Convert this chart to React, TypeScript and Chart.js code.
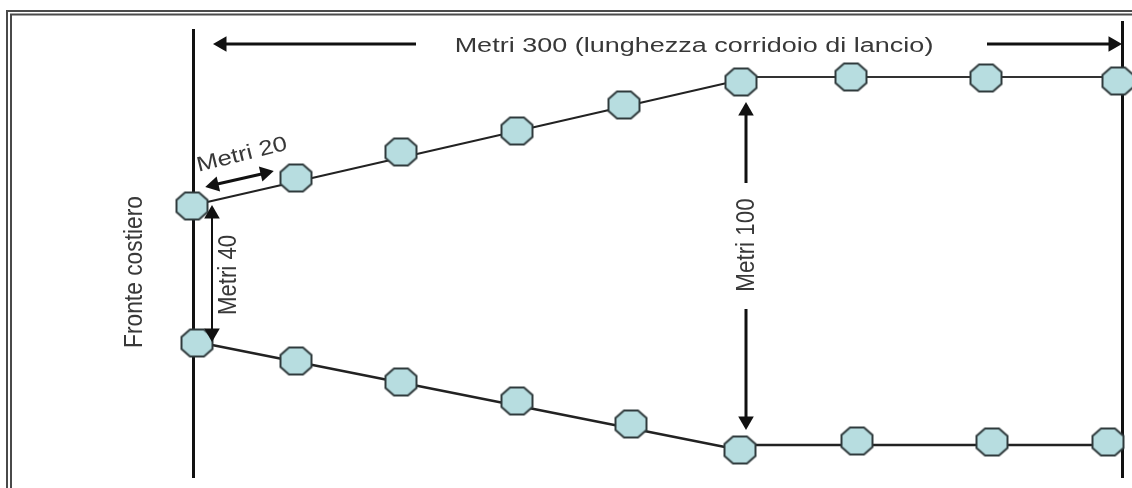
import React, { useEffect, useRef } from "react";
import { Chart, registerables } from "chart.js";

Chart.register(...registerables);

// Diagram plane coordinates
const topNodeX = [192, 296, 401, 517, 624, 741, 851, 986, 1118];
const topNodeY = [206, 178, 152, 131, 105, 82, 77, 78, 81];
const bottomNodeX = [197, 296, 401, 517, 631, 740, 857, 992, 1108];
const bottomNodeY = [343, 361, 382, 401, 424, 450, 441, 442, 442];

const topSlantX = [192, 740];
const topSlantY = [205.5, 80];
const topRunX = [740, 1122];
const topRunY = [77, 77];
const bottomSlantX = [197, 740];
const bottomSlantY = [342, 450];
const bottomRunX = [740, 1122];
const bottomRunY = [445, 445];

const coastX = [193.5, 193.5];
const coastY = [29, 478];
const endX = [1122.5, 1122.5];
const endY = [21, 478];

const frameOuterX = [7, 7, 1132];
const frameOuterY = [488, 11, 11];
const frameInnerX = [11, 11, 1132];
const frameInnerY = [488, 14.5, 14.5];

const labels = ["Metri 300 (lunghezza corridoio di lancio)", "Metri 20", "Metri 40", "Metri 100", "Fronte costiero"];
const labelX = [694, 242, 229, 747, 135];
const labelY = [46, 155, 275, 245, 272];
const labelAngle = [0, -14, -90, -90, -90];
const labelAlong = [1.35, 1.28, 1.11, 1.12, 1.14];
const labelAcross = [1.05, 1.05, 1.25, 1.25, 1.25];

// Arrows: shafts and their heads
const shaftX = [[416, 222], [987, 1112], [213, 266], [212, 212], [746, 746], [746, 746]];
const shaftY = [[44, 44], [44, 44], [185, 173], [213, 334], [110, 183], [309, 422]];
const shaftWidth = [3, 3, 3, 2, 3, 3];
const headX = [222, 1113, 214, 265, 212, 212, 746, 746];
const headY = [44, 44, 185, 173, 214, 333, 111, 421];
const headRotation = [-90, 90, -103, 77, 0, 180, 0, 180];

const INK = "#111111";
const FILL = "#b7dde0";
const EDGE = "#2f3a3c";

function octagon(width: number, height: number): HTMLCanvasElement {
  const c = document.createElement("canvas");
  c.width = width + 4;
  c.height = height + 4;
  const g = c.getContext("2d")!;
  const mx = c.width / 2;
  const my = c.height / 2;
  const rx = width / 2;
  const ry = height / 2;
  const kx = rx * 0.45;
  const ky = ry * 0.45;
  g.beginPath();
  g.moveTo(mx - kx, my - ry);
  g.lineTo(mx + kx, my - ry);
  g.lineTo(mx + rx, my - ky);
  g.lineTo(mx + rx, my + ky);
  g.lineTo(mx + kx, my + ry);
  g.lineTo(mx - kx, my + ry);
  g.lineTo(mx - rx, my + ky);
  g.lineTo(mx - rx, my - ky);
  g.closePath();
  g.fillStyle = FILL;
  g.fill();
  g.lineWidth = 2;
  g.strokeStyle = EDGE;
  g.stroke();
  return c;
}

const zip = (xs: number[], ys: number[]) => xs.map((x, i) => ({ x, y: ys[i] }));

const lineSet = (xs: number[], ys: number[], width: number, color = INK) => ({
  type: "line" as const,
  data: zip(xs, ys),
  borderColor: color,
  borderWidth: width,
  pointRadius: 0,
  showLine: true,
  tension: 0,
  order: 5,
});

const textPlugin = {
  id: "diagramText",
  afterDatasetsDraw(chart: any) {
    const { ctx, scales } = chart;
    ctx.save();
    ctx.fillStyle = "#383838";
    ctx.font = '20px "Liberation Sans", Arial, sans-serif';
    ctx.textAlign = "center";
    ctx.textBaseline = "middle";
    labels.forEach((t, i) => {
      ctx.save();
      ctx.translate(scales.x.getPixelForValue(labelX[i]), scales.y.getPixelForValue(labelY[i]));
      ctx.rotate((labelAngle[i] * Math.PI) / 180);
      ctx.scale(labelAlong[i], labelAcross[i]);
      ctx.fillText(t, 0, 0);
      ctx.restore();
    });
    ctx.restore();
  },
};

export default function App() {
  const ref = useRef<HTMLCanvasElement>(null);
  useEffect(() => {
    document.body.style.margin = "0";
    document.body.style.background = "#ffffff";
    const marker = octagon(31, 27);
    const chart = new Chart(ref.current!, {
      type: "scatter",
      data: {
        datasets: [
          lineSet(frameOuterX, frameOuterY, 2, "#4a4a4a"),
          lineSet(frameInnerX, frameInnerY, 2, "#4a4a4a"),
          lineSet(coastX, coastY, 3),
          lineSet(endX, endY, 3),
          lineSet(topSlantX, topSlantY, 2, "#222222"),
          lineSet(topRunX, topRunY, 2, "#333333"),
          lineSet(bottomSlantX, bottomSlantY, 2.5, "#222222"),
          lineSet(bottomRunX, bottomRunY, 2.5, "#222222"),
          ...shaftX.map((xs, i) => lineSet(xs, shaftY[i], shaftWidth[i])),
          {
            type: "scatter" as const,
            data: zip(headX, headY),
            pointStyle: "triangle",
            pointRadius: 9,
            pointRotation: headRotation,
            pointBackgroundColor: INK,
            pointBorderColor: INK,
            pointBorderWidth: 0,
            order: 1,
          },
          {
            type: "scatter" as const,
            data: zip(topNodeX, topNodeY),
            pointStyle: marker,
            order: 2,
          },
          {
            type: "scatter" as const,
            data: zip(bottomNodeX, bottomNodeY),
            pointStyle: marker,
            order: 2,
          },
        ] as any,
      },
      options: {
        animation: false,
        responsive: false,
        devicePixelRatio: 1,
        layout: { padding: 0, autoPadding: false },
        clip: false as any,
        plugins: { legend: { display: false }, tooltip: { enabled: false } },
        scales: {
          x: { type: "linear", min: 0, max: 1132, display: false },
          y: { type: "linear", min: 0, max: 488, reverse: true, display: false },
        },
      },
      plugins: [textPlugin],
    });
    return () => chart.destroy();
  }, []);
  return <canvas ref={ref} width={1132} height={488} style={{ display: "block" }} />;
}
